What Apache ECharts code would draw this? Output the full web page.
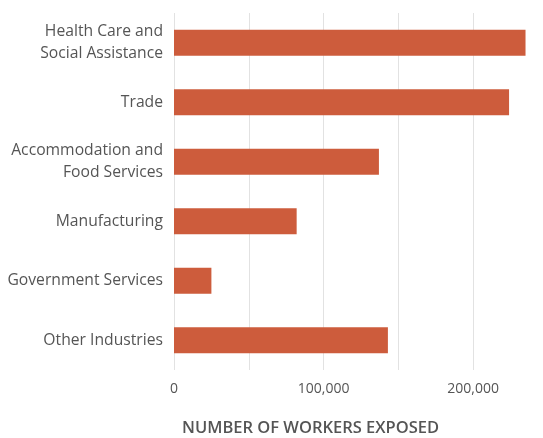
<!DOCTYPE html>
<html>
<head>
<meta charset="utf-8">
<script src="https://cdn.jsdelivr.net/npm/echarts@6/dist/echarts.min.js"></script>
<style>
  html, body { margin: 0; padding: 0; background: #fff; }
  #container { width: 543px; height: 438px; }
</style>
</head>
<body>
<div id="container"></div>
<script>
var industries = [
    'Health Care and\nSocial Assistance',
    'Trade',
    'Accommodation and\nFood Services',
    'Manufacturing',
    'Government Services',
    'Other Industries'
];
var workersExposed = [235000, 224000, 137000, 82000, 25000, 143000];
var axisTitle = 'NUMBER OF WORKERS EXPOSED';

var dom = document.getElementById('container');
var myChart = echarts.init(dom);
var textColor = '#555555';

option = {
    animation: false,
    title: {
        text: axisTitle,
        left: 182,
        top: 420,
        padding: 0,
        textStyle: {
            fontFamily: 'Open Sans',
            fontSize: 16.5,
            fontWeight: 600,
            color: textColor
        }
    },
    grid: {
        left: 174,
        right: 10,
        top: 13,
        height: 357,
        containLabel: false
    },
    xAxis: {
        type: 'value',
        min: 0,
        max: 240000,
        interval: 50000,
        axisLine: { show: false },
        axisTick: { show: false },
        axisLabel: {
            margin: 12,
            showMaxLabel: false,
            fontFamily: 'Open Sans',
            fontSize: 14,
            color: textColor,
            formatter: function (v) {
                if (v % 100000 !== 0) return '';
                return v.toLocaleString('en-US');
            }
        },
        splitLine: {
            show: true,
            showMaxLine: false,
            lineStyle: { color: '#e2e2e2', width: 1 }
        }
    },
    yAxis: {
        type: 'category',
        inverse: true,
        data: industries,
        axisLine: { show: false },
        axisTick: { show: false },
        axisLabel: {
            margin: 11,
            fontFamily: 'Open Sans',
            fontSize: 15.7,
            lineHeight: 22,
            color: textColor,
            align: 'right'
        }
    },
    series: [
        {
            type: 'bar',
            data: workersExposed,
            barWidth: 26,
            itemStyle: { color: '#cd5c3c' }
        }
    ]
};

if (option && typeof option === 'object') {
    myChart.setOption(option, true);
}
</script>
</body>
</html>
